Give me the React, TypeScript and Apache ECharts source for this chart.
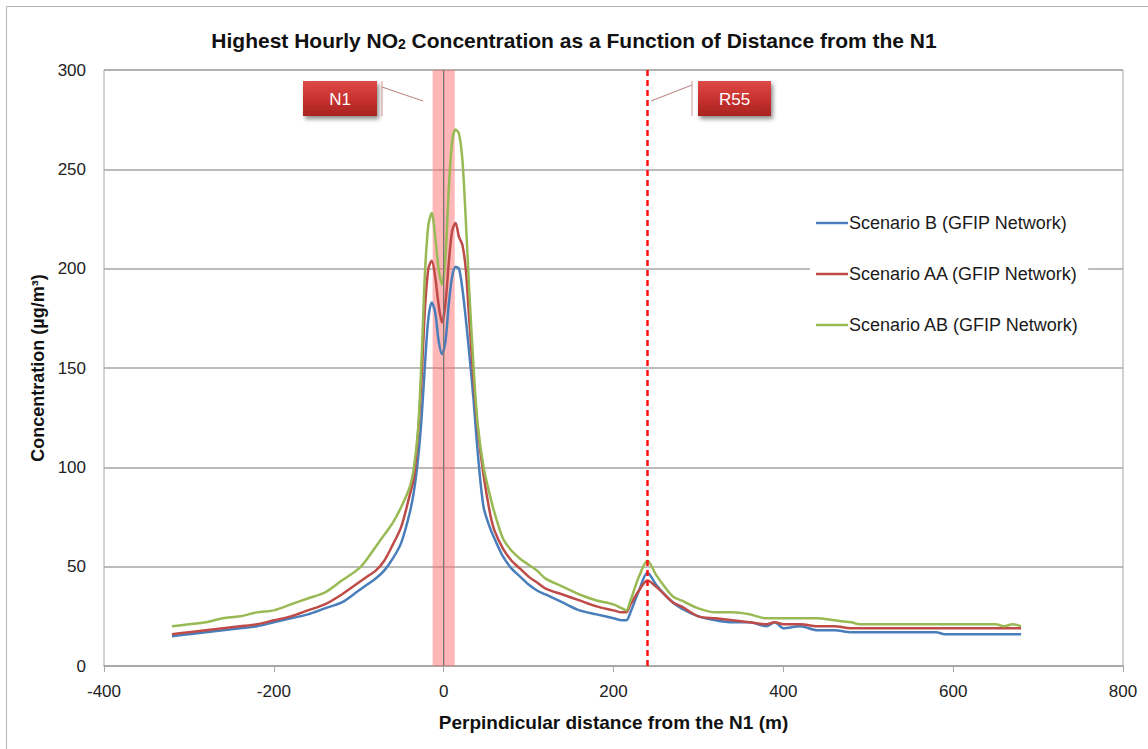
import React, { useEffect, useRef } from "react";
import * as echarts from "echarts";

const distance = [
  -320, -300, -280, -260, -240, -220, -200, -180, -160, -140,
  -120, -100, -90, -80, -70, -60, -50, -40, -35, -30,
  -26, -22, -18, -14, -10, -6, -2, 2, 6, 10,
  14, 18, 22, 26, 30, 35, 40, 47, 55, 60,
  70, 80, 90, 100, 110, 120, 140, 160, 180, 200,
  210, 215, 220, 230, 240, 250, 260, 270, 280, 300,
  320, 340, 360, 380, 390, 400, 420, 440, 460, 480,
  490, 500, 540, 580, 590, 620, 650, 660, 670, 680,
];

const scenarioB = [
  15, 16, 17, 18, 19, 20, 22, 24, 26, 29,
  32, 38, 41, 44, 48, 54, 62, 77, 88, 105,
  125, 152, 175, 183, 178, 164, 157, 163, 182, 196,
  201, 200, 190, 175, 158, 135, 108, 80, 69, 64,
  55, 49, 45, 41, 38, 36, 32, 28, 26, 24,
  23, 23, 27, 38, 47, 41, 36, 32, 29, 25,
  23, 22, 22, 20, 22, 19, 20, 18, 18, 17,
  17, 17, 17, 17, 16, 16, 16, 16, 16, 16,
];

const scenarioAA = [
  16, 17, 18, 19, 20, 21, 23, 25, 28, 31,
  36, 42, 45, 48, 53, 61, 70, 86, 95, 118,
  145, 180, 200, 204, 196, 182, 173, 182, 203, 219,
  223, 216, 212, 200, 175, 145, 120, 96, 76, 68,
  59, 53, 49, 45, 42, 39, 36, 33, 30, 28,
  27, 27, 31, 38, 43, 40, 36, 32, 30, 25,
  24, 23, 22, 21, 22, 21, 21, 20, 20, 19,
  19, 19, 19, 19, 19, 19, 19, 19, 19, 19,
];

const scenarioAB = [
  20, 21, 22, 24, 25, 27, 28, 31, 34, 37,
  43, 49, 54, 60, 66, 72, 80, 90, 100, 120,
  155, 198, 222, 228, 216, 200, 192, 205, 240, 264,
  270, 268, 255, 225, 190, 152, 122, 100, 85, 77,
  64, 58, 54, 51, 48, 44, 40, 36, 33, 31,
  29, 28, 33, 45, 53, 46, 40, 35, 33, 29,
  27, 27, 26, 24, 24, 24, 24, 24, 23, 22,
  21, 21, 21, 21, 21, 21, 21, 20, 21, 20,
];

const seriesNames = [
  "Scenario B (GFIP Network)",
  "Scenario AA (GFIP Network)",
  "Scenario AB (GFIP Network)",
];
const seriesColors = ["#4a7ebb", "#be4b48", "#98b954"];
const seriesValues = [scenarioB, scenarioAA, scenarioAB];

const roadBand = [-13, 13];
const roadCentre = 0;
const r55Position = 240;

const FONT = "'Liberation Sans', Arial, sans-serif";

export default function App() {
  const ref = useRef<HTMLDivElement>(null);
  useEffect(() => {
    if (!ref.current) return;
    const chart = echarts.init(ref.current, undefined, { renderer: "svg" });
    const redGrad = () =>
      new echarts.graphic.LinearGradient(0, 0, 0, 1, [
        { offset: 0, color: "#de4a47" },
        { offset: 0.5, color: "#c83230" },
        { offset: 1, color: "#a82420" },
      ]);
    const boxStyle = () => ({
      fill: redGrad(),
      shadowBlur: 4,
      shadowColor: "rgba(0,0,0,0.45)",
      shadowOffsetX: 2,
      shadowOffsetY: 3,
    });
    const lines = seriesNames.map((name, i) => ({
      name,
      type: "line",
      data: distance.map((d, j) => [d, seriesValues[i][j]]),
      showSymbol: false,
      symbol: "none",
      smooth: 0.3,
      z: 3,
      lineStyle: { color: seriesColors[i], width: 2.5 },
      itemStyle: { color: seriesColors[i] },
    }));
    chart.setOption({
      animation: false,
      backgroundColor: "#ffffff",
      textStyle: { fontFamily: FONT },
      title: {
        text: "{a|Highest Hourly NO}{s|2}{a| Concentration as a Function of Distance from the N1}",
        left: "center",
        top: 25,
        textStyle: {
          rich: {
            a: { fontSize: 21, fontWeight: "bold", color: "#111", fontFamily: FONT },
            s: { fontSize: 14, fontWeight: "bold", color: "#111", fontFamily: FONT, verticalAlign: "bottom", padding: [7, 0, 0, 0] },
          },
        },
      },
      legend: {
        data: seriesNames,
        orient: "vertical",
        left: 810,
        top: 199,
        selectedMode: false,
        icon: "rect",
        itemWidth: 32,
        itemHeight: 2.5,
        itemGap: 33,
        backgroundColor: "#ffffff",
        padding: [15, 9, 15, 6],
        textStyle: { fontSize: 18, color: "#1a1a1a", fontFamily: FONT, padding: [0, 0, 0, -4] },
      },
      grid: {
        left: 104,
        right: 25,
        top: 70,
        bottom: 83,
        show: true,
        borderColor: "#a6a6a6",
        borderWidth: 1,
        containLabel: false,
      },
      xAxis: {
        type: "value",
        min: -400,
        max: 800,
        interval: 200,
        name: "Perpindicular distance from the N1 (m)",
        nameLocation: "middle",
        nameGap: 47,
        nameTextStyle: { fontSize: 19, fontWeight: "bold", color: "#111", fontFamily: FONT },
        axisLine: { show: true, lineStyle: { color: "#a6a6a6", width: 1.5 } },
        axisTick: { show: true, length: 6, lineStyle: { color: "#a6a6a6" } },
        axisLabel: { fontSize: 17, color: "#222", margin: 17, fontFamily: FONT },
        splitLine: { show: false },
      },
      yAxis: {
        type: "value",
        min: 0,
        max: 300,
        interval: 50,
        name: "Concentration (µg/m³)",
        nameLocation: "middle",
        nameRotate: 90,
        nameGap: 56,
        nameTextStyle: { fontSize: 18, fontWeight: "bold", color: "#111", fontFamily: FONT },
        axisLine: { show: true, lineStyle: { color: "#a6a6a6", width: 1.5 } },
        axisTick: { show: true, length: 6, lineStyle: { color: "#a6a6a6" } },
        axisLabel: { fontSize: 17, color: "#222", margin: 18, fontFamily: FONT },
        splitLine: { show: true, lineStyle: { color: "#a6a6a6", width: 1.5 } },
      },
      series: [
        ...lines,
        {
          name: "markers",
          type: "line",
          data: [],
          z: 5,
          silent: true,
          markArea: {
            silent: true,
            itemStyle: { color: "rgba(255,110,110,0.5)" },
            data: [[{ xAxis: roadBand[0] }, { xAxis: roadBand[1] }]],
          },
          markLine: {
            silent: true,
            symbol: ["none", "none"],
            label: { show: false },
            data: [
              { xAxis: roadCentre, lineStyle: { color: "#777", width: 1, type: "solid" } },
              { xAxis: r55Position, lineStyle: { color: "#ff1010", width: 2.5, type: [6, 4] } },
            ],
          },
        },
      ],
      graphic: [
        {
          type: "rect",
          shape: { x: 6.5, y: 6.5, width: 1300, height: 900 },
          style: { fill: "none", stroke: "#b5b5b5", lineWidth: 1 },
          silent: true,
        },
        // N1 callout
        { type: "line", shape: { x1: 382, y1: 81, x2: 382, y2: 116 }, style: { stroke: "#e0a8a8", lineWidth: 1.2 }, z: 10 },
        { type: "line", shape: { x1: 382, y1: 87, x2: 423, y2: 101 }, style: { stroke: "#c08a8a", lineWidth: 1.2 }, z: 10 },
        { type: "rect", shape: { x: 303, y: 81, width: 74, height: 35 }, style: boxStyle(), z: 10 },
        {
          type: "text", x: 340, y: 99, z: 11,
          style: { text: "N1", fill: "#ffffff", font: `17px ${FONT}`, textAlign: "center", textVerticalAlign: "middle", align: "center", verticalAlign: "middle" },
        },
        // R55 callout
        { type: "line", shape: { x1: 692, y1: 81, x2: 692, y2: 116 }, style: { stroke: "#e0a8a8", lineWidth: 1.2 }, z: 10 },
        { type: "line", shape: { x1: 692, y1: 85, x2: 651, y2: 101 }, style: { stroke: "#c08a8a", lineWidth: 1.2 }, z: 10 },
        { type: "rect", shape: { x: 698, y: 81, width: 73, height: 35 }, style: boxStyle(), z: 10 },
        {
          type: "text", x: 734.5, y: 99, z: 11,
          style: { text: "R55", fill: "#ffffff", font: `17px ${FONT}`, textAlign: "center", textVerticalAlign: "middle", align: "center", verticalAlign: "middle" },
        },
      ],
    });
    return () => chart.dispose();
  }, []);
  return (
    <div
      ref={ref}
      style={{ position: "fixed", left: 0, top: 0, width: 1148, height: 749, background: "#fff" }}
    />
  );
}
